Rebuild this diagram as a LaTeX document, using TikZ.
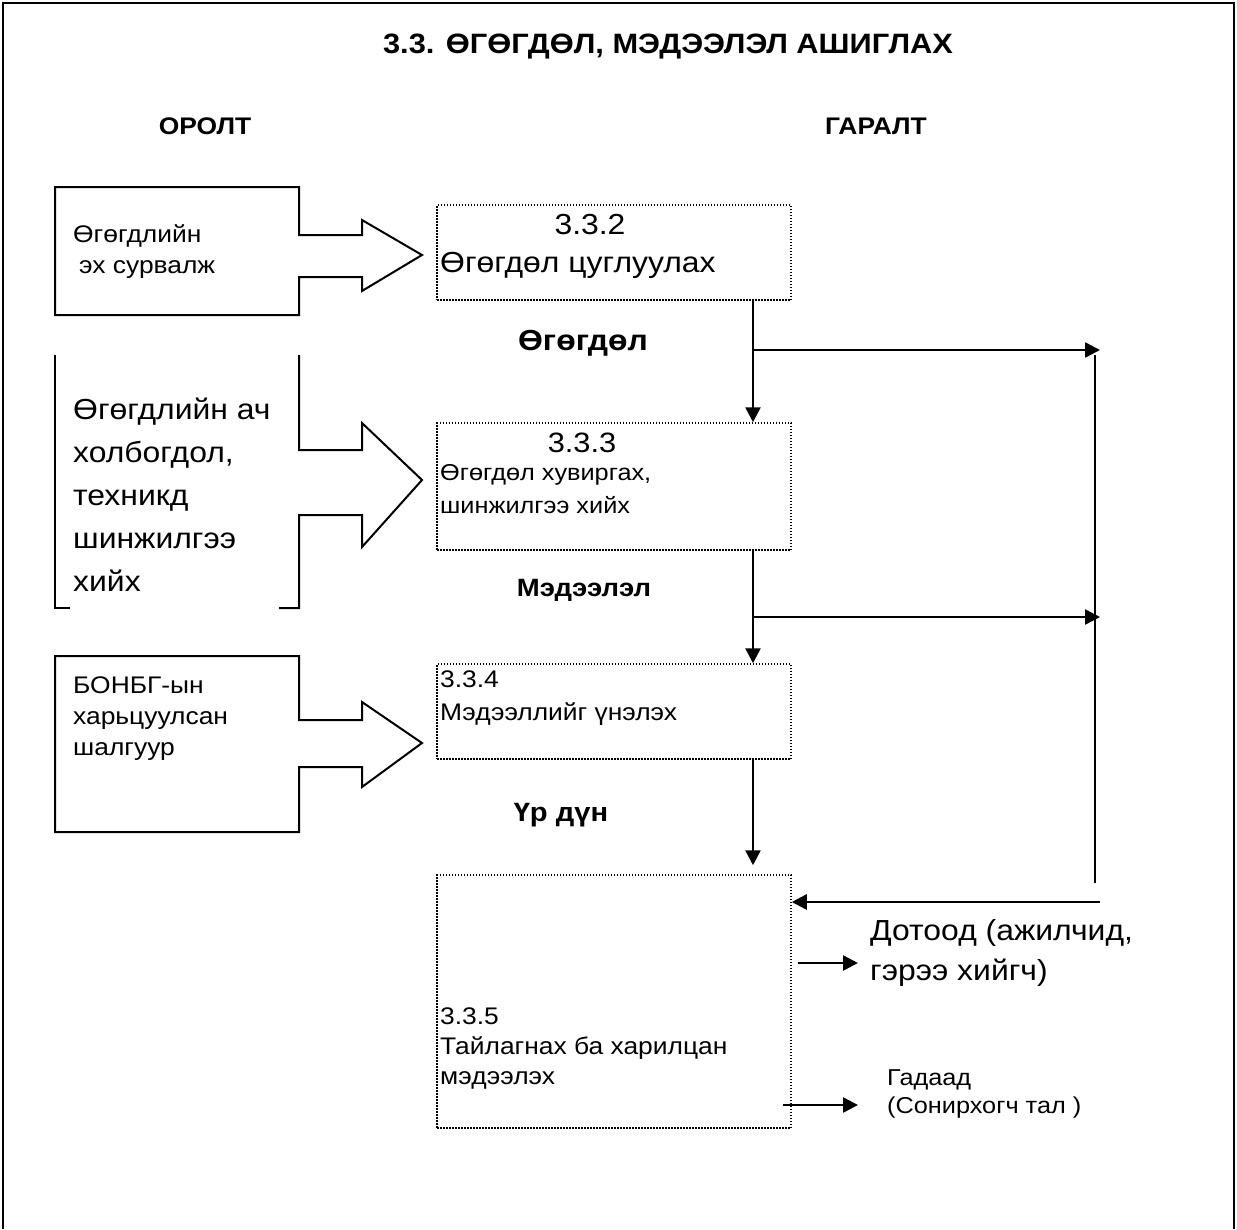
\documentclass[tikz,border=0pt]{standalone}
\usepackage{fontspec}
\setmainfont[FakeStretch=1.1]{Liberation Sans}
\usetikzlibrary{arrows.meta}

\tikzset{
  procbox/.style={draw, line width=1.5pt, dash pattern=on 1.5pt off 1.5pt, minimum width=354pt, inner sep=0pt},
  inbox/.style={line width=2pt, line join=miter},
  flow/.style={line width=2.5pt, -{Triangle[length=15pt,width=15pt]}},
  bar/.style={line width=2.5pt},
  txt/.style={align=left, inner sep=0pt, anchor=west},
  hdr/.style={font=\bfseries\fontsize{24}{28}\selectfont, inner sep=0pt},
}

\begin{document}
\begin{tikzpicture}[x=1pt,y=-1pt]
	\useasboundingbox (0,0) rectangle (1237,1229);
	% frame
	\draw[line width=2pt] (3,1229) -- (3,3) -- (1234,3) -- (1234,1229);

	\node[font=\bfseries\fontsize{28}{34}\selectfont, inner sep=0pt] (title) at (668,47) {3.3. ӨГӨГДӨЛ, МЭДЭЭЛЭЛ АШИГЛАХ};
	\node[hdr] (orolt) at (205,126) {ОРОЛТ};
	\node[hdr] (garalt) at (876,126) {ГАРАЛТ};

	% inputs with block arrows
	\draw[inbox] (299,235) -- (299,187) -- (55,187) -- (55,315) -- (299,315) -- (299,277)
		-- (362,277) -- (362,291) -- (422,255) -- (362,220) -- (362,235) -- cycle;
	\node[txt, font=\fontsize{24}{31}\selectfont] (src) at (73,252) {Өгөгдлийн\\\hspace*{0.25em}эх сурвалж};

	\draw[inbox] (299,355) -- (299,450) -- (362,450) -- (362,423) -- (422,480) -- (362,547)
		-- (362,515) -- (299,515) -- (299,608) -- (279,608);
	\draw[inbox] (55,355) -- (55,608) -- (70,608);
	\node[txt, font=\fontsize{29}{43}\selectfont] (tech) at (73,495) {Өгөгдлийн ач\\холбогдол,\\техникд\\шинжилгээ\\хийх};

	\draw[inbox] (299,720) -- (299,656) -- (55,656) -- (55,832) -- (299,832) -- (299,767)
		-- (362,767) -- (362,787) -- (422,743) -- (362,702) -- (362,720) -- cycle;
	\node[txt, font=\fontsize{24}{31}\selectfont] (crit) at (73,719) {БОНБГ-ын\\харьцуулсан\\шалгуур};

	% process boxes
	\node[procbox, minimum height=95pt] (p332) at (614,252.5) {};
	\node[procbox, minimum height=127pt] (p333) at (614,486.5) {};
	\node[procbox, minimum height=95pt] (p334) at (614,711.5) {};
	\node[procbox, minimum height=253pt] (p335) at (614,1001.5) {};

	\node[inner sep=0pt, font=\fontsize{29}{32}\selectfont] (n332) at (590,225) {3.3.2};
	\node[txt, font=\fontsize{29}{32}\selectfont] (t332) at (440,265) {Өгөгдөл цуглуулах};
	\node[inner sep=0pt, font=\fontsize{28}{32}\selectfont] (n333) at (582,443) {3.3.3};
	\node[txt, font=\fontsize{23}{33}\selectfont] (t333) at (440,489) {Өгөгдөл хувиргах,\\шинжилгээ хийх};
	\node[txt, font=\fontsize{24}{33}\selectfont] (t334) at (440,698) {3.3.4\\Мэдээллийг үнэлэх};
	\node[txt, font=\fontsize{24}{30}\selectfont] (t335) at (440,1048) {3.3.5\\Тайлагнах ба харилцан\\мэдээлэх};

	% flow labels
	\node[inner sep=0pt, font=\bfseries\fontsize{29}{32}\selectfont] (lbl1) at (583,343) {Өгөгдөл};
	\node[inner sep=0pt, font=\bfseries\fontsize{25}{28}\selectfont] (lbl2) at (584,590) {Мэдээлэл};
	\node[inner sep=0pt, font=\bfseries\fontsize{26.5}{30}\selectfont] (lbl3) at (561,815) {Үр дүн};

	% main flow
	\coordinate (b1) at (753,350);
	\coordinate (b2) at (753,617);
	\coordinate (e1) at (1100,350);
	\coordinate (e2) at (1100,617);
	\draw[flow] (p332.south -| b1) -- (p333.north -| b1);
	\draw[flow] (p333.south -| b1) -- (p334.north -| b1);
	\draw[flow] (p334.south -| b1) -- ([yshift=9pt]p335.north -| b1);
	\draw[flow] (b1) -- (e1);
	\draw[flow] (b2) -- (e2);

	% feedback
	\coordinate (r1) at (1095,355);
	\coordinate (r2) at (1095,883);
	\coordinate (r3) at (1100,902);
	\draw[bar] (r1) -- (r2);
	\draw[flow] (r3) -- (r3 -| p335.east);

	% outputs
	\node[txt, font=\fontsize{29}{40}\selectfont] (dotood) at (870,953) {Дотоод (ажилчид,\\гэрээ хийгч)};
	\node[txt, font=\fontsize{23}{28}\selectfont] (gadaad) at (887,1094) {Гадаад\\(Сонирхогч тал )};
	\coordinate (o1) at (798,963);
	\coordinate (o2) at (783,1105);
	\draw[flow] (o1) -- ([xshift=-12pt]o1 -| dotood.west);
	\draw[flow] (o2) -- ([xshift=-29pt]o2 -| gadaad.west);
\end{tikzpicture}
\end{document}
